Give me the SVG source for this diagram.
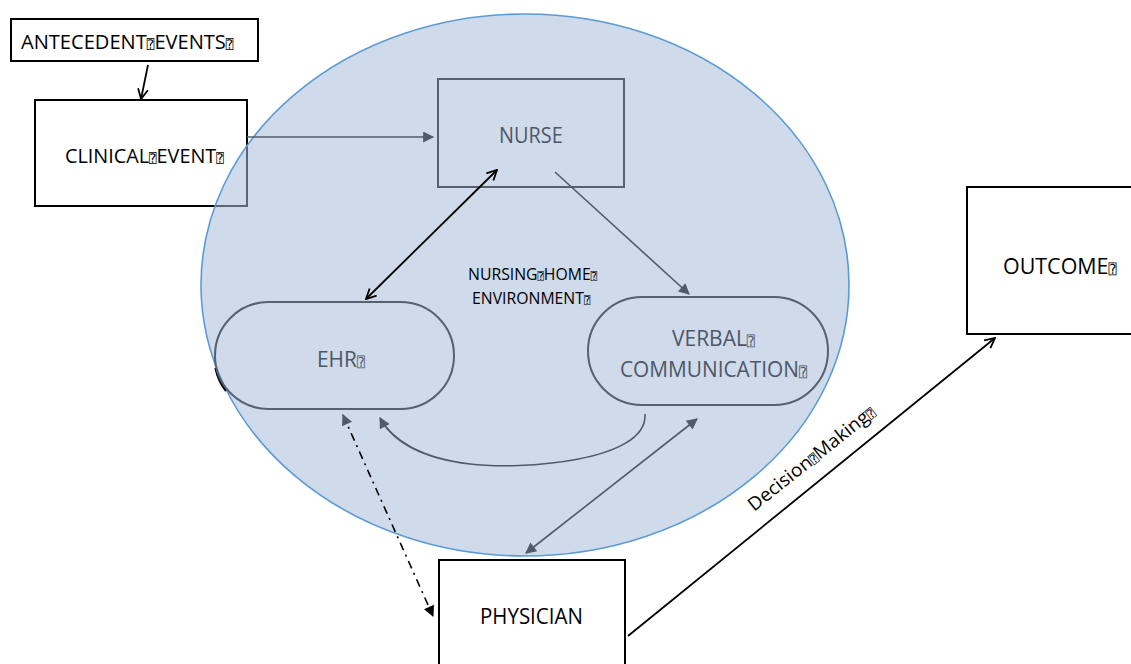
<svg xmlns="http://www.w3.org/2000/svg" width="1131" height="664" viewBox="0 0 1131 664">
<style>
.box{fill:#fff;stroke:#000;stroke-width:2}
.gbox{fill:none;stroke:#56606f;stroke-width:2}
.t{font-family:"Open Sans","Liberation Sans",sans-serif;fill:#000}
.g{fill:#4d5767}
.q{font-family:"DejaVu Sans Mono","DejaVu Sans",monospace}
.gl{stroke:#4f5a6b;stroke-width:1.6;fill:none}
.bl{stroke:#000;stroke-width:1.8;fill:none}
</style>
<defs>
<marker id="gt" viewBox="0 0 10 10" refX="9" refY="5" markerWidth="13" markerHeight="11" markerUnits="userSpaceOnUse" orient="auto-start-reverse"><path d="M0,0 L10,5 L0,10 z" fill="#4f5a6b"/></marker>
<marker id="bt" viewBox="0 0 10 10" refX="9" refY="5" markerWidth="13" markerHeight="11" markerUnits="userSpaceOnUse" orient="auto-start-reverse"><path d="M0,0 L10,5 L0,10 z" fill="#000"/></marker>
<marker id="bc" viewBox="0 0 12 12" refX="11" refY="6" markerWidth="12" markerHeight="12" markerUnits="userSpaceOnUse" orient="auto-start-reverse"><path d="M1,1 L11,6 L1,11" fill="none" stroke="#000" stroke-width="1.8"/></marker>
</defs>

<g id="antecedent">
<rect class="box" x="11" y="19" width="247" height="42"/>
<text class="t" font-size="20.5" transform="translate(21,49) scale(0.98,1)">ANTECEDENT<tspan class="q" font-size="13">⍰</tspan>EVENTS<tspan class="q" font-size="13">⍰</tspan></text>
</g>

<g id="clinical">
<rect class="box" x="35" y="100" width="212" height="106"/>
<text class="t" font-size="20.5" transform="translate(65,163) scale(0.966,1)">CLINICAL<tspan class="q" font-size="13">⍰</tspan>EVENT<tspan class="q" font-size="13">⍰</tspan></text>
</g>

<g id="environment">
<ellipse cx="525" cy="285" rx="324" ry="271" fill="rgb(167,187,218)" fill-opacity="0.54" stroke="#5b9bd5" stroke-width="1.6"/>
<text class="t" font-size="16.8" transform="translate(468,280) scale(0.94,1)">NURSING<tspan class="q" font-size="11">⍰</tspan>HOME<tspan class="q" font-size="11">⍰</tspan></text>
<text class="t" font-size="16.8" transform="translate(472,304) scale(0.94,1)">ENVIRONMENT<tspan class="q" font-size="11">⍰</tspan></text>
</g>

<g id="nurse">
<rect class="gbox" x="438" y="79" width="186" height="108"/>
<text class="t g" font-size="21.5" transform="translate(499,143) scale(0.926,1)">NURSE</text>
</g>

<g id="ehr">
<path d="M215.5,368 A55,55 0 0 0 226,391" fill="none" stroke="#000" stroke-width="2.2"/>
<rect class="gbox" x="215" y="302" width="239" height="107" rx="53.5"/>
<text class="t g" font-size="22" transform="translate(317,367) scale(0.95,1)">EHR<tspan class="q" font-size="14">⍰</tspan></text>
</g>

<g id="verbal">
<rect class="gbox" x="588" y="297" width="240" height="108" rx="54"/>
<text class="t g" font-size="21.5" transform="translate(672,346) scale(0.976,1)">VERBAL<tspan class="q" font-size="14">⍰</tspan></text>
<text class="t g" font-size="21.5" transform="translate(620,377) scale(0.97,1)">COMMUNICATION<tspan class="q" font-size="14">⍰</tspan></text>
</g>

<g id="physician">
<rect class="box" x="439" y="560" width="186" height="110"/>
<text class="t" font-size="21.5" transform="translate(480,624) scale(0.953,1)">PHYSICIAN</text>
</g>

<g id="outcome">
<rect class="box" x="967" y="187" width="170" height="147"/>
<text class="t" font-size="22" transform="translate(1003,274) scale(0.975,1)">OUTCOME<tspan class="q" font-size="14">⍰</tspan></text>
</g>

<g id="connectors">
<line class="bl" x1="148" y1="65" x2="141" y2="99" marker-end="url(#bc)"/>
<line class="gl" x1="247" y1="137" x2="433" y2="137" marker-end="url(#gt)"/>
<line class="bl" x1="366" y1="299" x2="497" y2="170" marker-start="url(#bc)" marker-end="url(#bc)"/>
<line class="gl" x1="555" y1="172" x2="689" y2="294" marker-end="url(#gt)"/>
<path class="gl" d="M645,414 C648,462 520,470 470,464 C420,458 392,440 380,418" marker-end="url(#gt)"/>
<line class="gl" x1="697" y1="419" x2="526" y2="553" marker-start="url(#gt)" marker-end="url(#gt)"/>
<line x1="343" y1="415" x2="433" y2="616" stroke="#000" stroke-width="1.6" stroke-dasharray="8 5 2 5" marker-start="url(#gt)" marker-end="url(#bt)"/>
<line class="bl" x1="628" y1="636" x2="995" y2="338" marker-end="url(#bc)"/>
<text class="t" font-size="18.5" transform="translate(754,512) rotate(-38.5) scale(1.04,1)">Decision<tspan class="q" font-size="12">⍰</tspan>Making<tspan class="q" font-size="12">⍰</tspan></text>
</g>
</svg>
